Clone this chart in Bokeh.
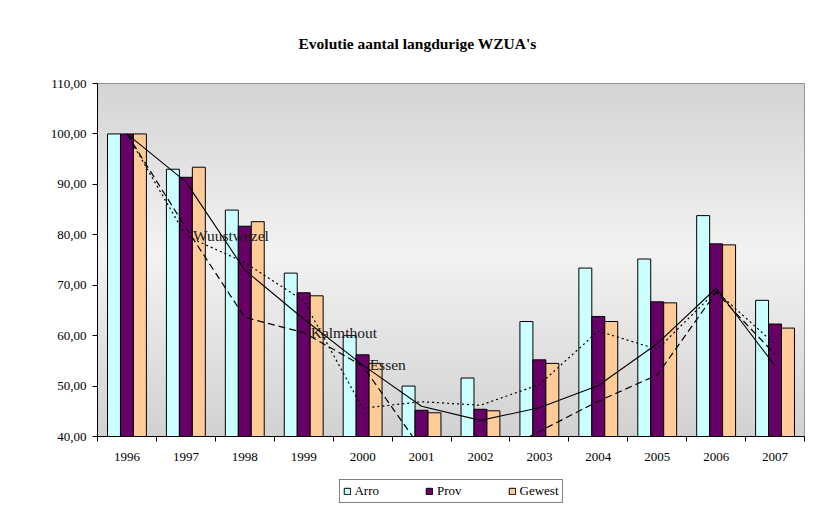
import numpy as np
from bokeh.plotting import figure
from bokeh.models import (ColumnDataSource, Range1d, FixedTicker)
from bokeh.transform import dodge
from bokeh.core.properties import value
from bokeh.embed import file_html
from bokeh.resources import INLINE

# ---- data ----
years = ["1996", "1997", "1998", "1999", "2000", "2001", "2002", "2003", "2004", "2005", "2006", "2007"]
arro = [100.0, 93.0, 84.9, 72.4, 60.0, 50.0, 51.6, 62.8, 73.4, 75.2, 83.8, 67.0]
prov = [100.0, 91.4, 81.7, 68.5, 56.2, 45.2, 45.4, 55.2, 63.8, 66.7, 78.2, 62.3]
gewest = [100.0, 93.4, 82.6, 67.9, 54.5, 44.7, 45.1, 54.5, 62.8, 66.5, 78.0, 61.5]
wuustwezel = [100.0, 79.8, 74.5, 66.9, 45.6, 46.9, 46.2, 50.3, 60.9, 57.3, 68.8, 58.3]
kalmthout = [100.0, 81.4, 63.6, 60.6, 54.0, 37.5, 35.0, 41.0, 47.0, 52.2, 68.6, 56.3]
essen = [100.0, 90.5, 73.0, 63.3, 54.2, 46.0, 43.2, 45.7, 50.1, 58.4, 69.4, 54.0]
y_ticks = [40, 50, 60, 70, 80, 90, 100, 110]
# data labels: series name and the year index where it is shown
label_names = ["Wuustwezel", "Kalmthout", "Essen"]
label_index = [1, 3, 4]

FONT = "Liberation Serif"
xs = list(range(1, len(years) + 1))

src = ColumnDataSource(dict(x=xs, arro=arro, prov=prov, gewest=gewest,
                            wuustwezel=wuustwezel, kalmthout=kalmthout, essen=essen))

p = figure(width=816, height=505, frame_width=707, frame_height=353, sizing_mode="fixed",
           output_backend="svg", toolbar_location=None,
           x_range=Range1d(0.5, len(years) + 0.5), y_range=Range1d(y_ticks[0], y_ticks[-1]))
p.min_border_left = 97
p.min_border_right = 12
p.min_border_top = 83
p.min_border_bottom = 69
p.background_fill_color = "#E8E8E8"
p.border_fill_color = "white"
p.outline_line_color = "#808080"
p.outline_line_width = 1
p.xgrid.visible = False
p.ygrid.visible = False

# title
p.title.text = "Evolutie aantal langdurige WZUA's"
p.title.text_font = FONT
p.title.text_font_size = "15.5px"
p.title.text_font_style = "bold"
p.title.text_color = "black"
p.title.align = "left"
p.title.vertical_align = "top"
p.title.offset = 201
p.title.standoff = 60

# gradient background of the plot area (dark top/bottom, light centre)
n = 256
t = np.linspace(0.0, 1.0, n)
g = 0xD2 + (0xF3 - 0xD2) * (1 - np.abs(t - 0.52) / 0.52).clip(0, 1)
g = g.astype(np.uint32)
img = np.empty((n, 2), dtype=np.uint32)
col = (0xFF << 24) | (g << 16) | (g << 8) | g
img[:, 0] = col
img[:, 1] = col
p.image_rgba(image=[img], x=0.5, y=y_ticks[0], dw=len(years), dh=y_ticks[-1] - y_ticks[0])

# bars
bw = 0.22
p.vbar(x=dodge("x", -bw), top="arro", bottom=0, width=bw, source=src,
       fill_color="#CCFFFF", line_color="black", line_width=1, legend_label="Arro")
p.vbar(x=dodge("x", 0.0), top="prov", bottom=0, width=bw, source=src,
       fill_color="#660066", line_color="black", line_width=1, legend_label="Prov")
p.vbar(x=dodge("x", bw), top="gewest", bottom=0, width=bw, source=src,
       fill_color="#FFCC99", line_color="black", line_width=1, legend_label="Gewest")

# lines
p.line("x", "wuustwezel", source=src, line_color="black", line_width=1.2, line_dash="2 3")
p.line("x", "kalmthout", source=src, line_color="black", line_width=1.2, line_dash="7 4")
p.line("x", "essen", source=src, line_color="black", line_width=1.1)

# data labels
series = {"Wuustwezel": wuustwezel, "Kalmthout": kalmthout, "Essen": essen}
lab = ColumnDataSource(dict(x=[xs[i] for i in label_index],
                            y=[series[nm][i] for nm, i in zip(label_names, label_index)],
                            text=label_names))
p.text(x="x", y="y", text="text", source=lab, x_offset=7, text_baseline="middle",
       text_font=value(FONT), text_font_size="15.5px", text_color="#1a1a1a")

# axes
p.xaxis.axis_label = None
p.yaxis.axis_label = None
p.xaxis.ticker = FixedTicker(ticks=xs, minor_ticks=[x + 0.5 for x in [0] + xs])
p.xaxis.major_label_overrides = {x: y for x, y in zip(xs, years)}
p.xaxis.major_tick_out = 0
p.xaxis.major_tick_in = 0
p.xaxis.minor_tick_out = 5
p.xaxis.minor_tick_in = 0
p.xaxis.major_label_standoff = 11
p.yaxis.ticker = FixedTicker(ticks=y_ticks, minor_ticks=[])
p.yaxis.major_label_overrides = {v: f"{v},00" for v in y_ticks}
p.yaxis.major_tick_out = 5
p.yaxis.major_tick_in = 0
p.yaxis.major_label_standoff = 6
for ax in (p.xaxis[0], p.yaxis[0]):
    ax.axis_line_color = "black"
    ax.major_tick_line_color = "black"
    ax.minor_tick_line_color = "black"
    ax.major_label_text_font = FONT
    ax.major_label_text_font_size = "13px"
    ax.major_label_text_color = "black"

# legend (below the plot area)
leg = p.legend[0]
leg.orientation = "horizontal"
leg.location = "top_center"
leg.label_text_font = FONT
leg.label_text_font_size = "13px"
leg.label_text_color = "black"
leg.glyph_width = 8
leg.glyph_height = 8
leg.label_standoff = 4
leg.label_height = 14
leg.spacing = 46
leg.padding = 3
leg.margin = 7
leg.border_line_color = "black"
leg.border_line_width = 1
leg.background_fill_color = "white"
leg.background_fill_alpha = 1
p.add_layout(leg, "below")

open("out.html", "w").write(file_html(p, INLINE))
